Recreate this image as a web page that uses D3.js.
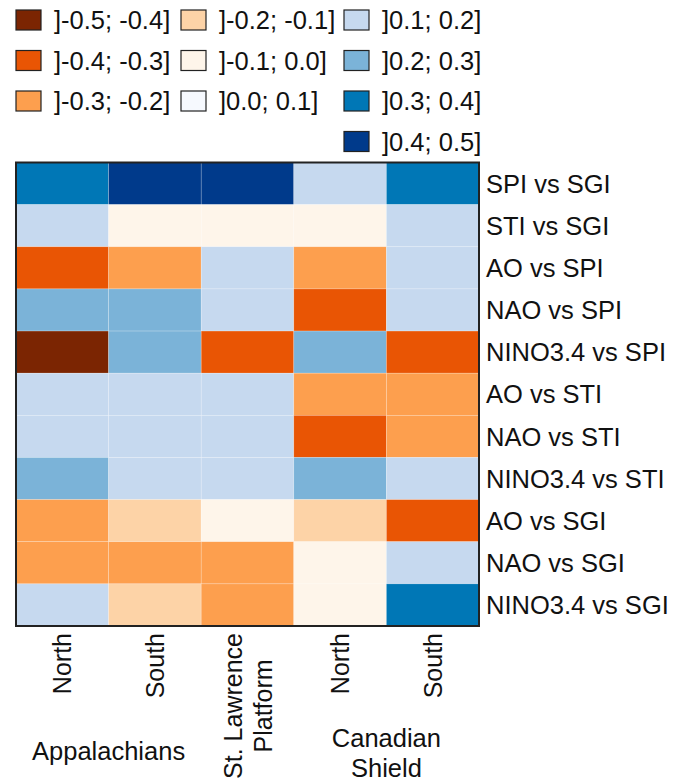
<!DOCTYPE html>
<html>
<head>
<meta charset="utf-8">
<script src="https://cdn.jsdelivr.net/npm/d3@7"></script>
<style>
  body { margin: 0; background: #fff; }
  svg text { font-family: "Liberation Sans", Arial, sans-serif; font-size: 25.5px; fill: #111; }
  svg text.col { font-size: 25px; }
</style>
</head>
<body>
<script>
// columns (regions) and their groups
const columns = ['App-N', 'App-S', 'StL', 'CS-N', 'CS-S'];
const columnLabels = [['North'], ['South'], ['St. Lawrence', 'Platform'], ['North'], ['South']];
const groups = [
    { lines: ['Appalachians'], from: 0, to: 1 },
    { lines: ['Canadian', 'Shield'], from: 3, to: 4 }];

const rows = ['SPI vs SGI', 'STI vs SGI', 'AO vs SPI', 'NAO vs SPI', 'NINO3.4 vs SPI',
    'AO vs STI', 'NAO vs STI', 'NINO3.4 vs STI', 'AO vs SGI', 'NAO vs SGI', 'NINO3.4 vs SGI'];

// correlation per row, one value per column (read as bin centres)
const values = [
    [0.35, 0.45, 0.45, 0.15, 0.35],
    [0.15, -0.05, -0.05, -0.05, 0.15],
    [-0.35, -0.25, 0.15, -0.25, 0.15],
    [0.25, 0.25, 0.15, -0.35, 0.15],
    [-0.45, 0.25, -0.35, 0.25, -0.35],
    [0.15, 0.15, 0.15, -0.25, -0.25],
    [0.15, 0.15, 0.15, -0.35, -0.25],
    [0.25, 0.15, 0.15, 0.25, 0.15],
    [-0.25, -0.15, -0.05, -0.15, -0.35],
    [-0.25, -0.25, -0.25, -0.05, 0.15],
    [0.15, -0.15, -0.25, -0.05, 0.35]];

const binLabels = [']-0.5; -0.4]', ']-0.4; -0.3]', ']-0.3; -0.2]', ']-0.2; -0.1]', ']-0.1; 0.0]',
    ']0.0; 0.1]', ']0.1; 0.2]', ']0.2; 0.3]', ']0.3; 0.4]', ']0.4; 0.5]'];
const binEdges = [-0.4, -0.3, -0.2, -0.1, 0, 0.1, 0.2, 0.3, 0.4];
const binColors = ['#7b2502', '#e95504', '#fd9f4e', '#fdd3a7', '#fef5ea',
    '#f6f9fe', '#c6d9ef', '#7bb3d8', '#0077b6', '#003a8b'];

const color = d3.scaleThreshold().domain(binEdges).range(binColors);

const W = 680, H = 780;
const grid = { left: 16, top: 162.5, right: 479, bottom: 626 };

const svg = d3.select('body').append('svg')
    .attr('width', W)
    .attr('height', H);

const x = d3.scaleBand().domain(columns).range([grid.left, grid.right]);
const y = d3.scaleBand().domain(rows).range([grid.top, grid.bottom]);

// cells
const cells = rows.flatMap((r, i) => columns.map((c, j) => ({ r, c, v: values[i][j] })));
svg.append('g')
    .selectAll('rect')
    .data(cells)
    .enter().append('rect')
    .attr('x', d => x(d.c))
    .attr('y', d => y(d.r))
    .attr('width', x.bandwidth())
    .attr('height', y.bandwidth())
    .attr('fill', d => color(d.v))
    .attr('stroke', 'rgba(255,255,255,0.35)')
    .attr('stroke-width', 0.6);

// frame
svg.append('rect')
    .attr('x', grid.left)
    .attr('y', grid.top)
    .attr('width', grid.right - grid.left)
    .attr('height', grid.bottom - grid.top)
    .attr('fill', 'none')
    .attr('stroke', '#222')
    .attr('stroke-width', 2);

// row labels on the right
svg.append('g')
    .selectAll('text')
    .data(rows)
    .enter().append('text')
    .attr('x', grid.right + 7)
    .attr('y', d => y(d) + y.bandwidth() / 2)
    .attr('dy', '0.36em')
    .text(d => d);

// rotated column labels
const colG = svg.append('g');
columns.forEach((c, j) => {
    const lines = columnLabels[j];
    const cx = x(c) + x.bandwidth() / 2;
    const lh = 30;
    const g = colG.append('g').attr('transform', `translate(${cx},${grid.bottom + 7}) rotate(-90)`);
    const first = g.append('text')
        .attr('class', 'col')
        .attr('text-anchor', 'end')
        .attr('x', 0)
        .attr('y', -(lines.length - 1) * lh / 2)
        .attr('dy', '0.36em')
        .text(lines[0]);
    const len = first.node().getComputedTextLength();
    lines.slice(1).forEach((l, k) => {
        g.append('text')
            .attr('class', 'col')
            .attr('text-anchor', 'middle')
            .attr('x', -len / 2)
            .attr('y', -(lines.length - 1) * lh / 2 + (k + 1) * lh)
            .attr('dy', '0.36em')
            .text(l);
    });
});

// group labels
groups.forEach(gr => {
    const cx = (x(columns[gr.from]) + x(columns[gr.to]) + x.bandwidth()) / 2;
    const base = gr.lines.length === 1 ? 760 : 747;
    gr.lines.forEach((l, k) => {
        svg.append('text')
            .attr('text-anchor', 'middle')
            .attr('x', cx)
            .attr('y', base + k * 29.5)
            .text(l);
    });
});

// legend, three columns
const legendCols = [
    { x: 16, bins: [0, 1, 2] },
    { x: 181, bins: [3, 4, 5] },
    { x: 344, bins: [6, 7, 8, 9] }];
const legend = svg.append('g');
legendCols.forEach(col => {
    col.bins.forEach((b, k) => {
        const top = 10 + k * 40.5;
        legend.append('rect')
            .attr('x', col.x)
            .attr('y', top)
            .attr('width', 25)
            .attr('height', 20)
            .attr('fill', binColors[b])
            .attr('stroke', '#222')
            .attr('stroke-width', 1.2);
        legend.append('text')
            .attr('x', col.x + 38)
            .attr('y', top + 10)
            .attr('dy', '0.36em')
            .text(binLabels[b]);
    });
});
</script>
</body>
</html>
